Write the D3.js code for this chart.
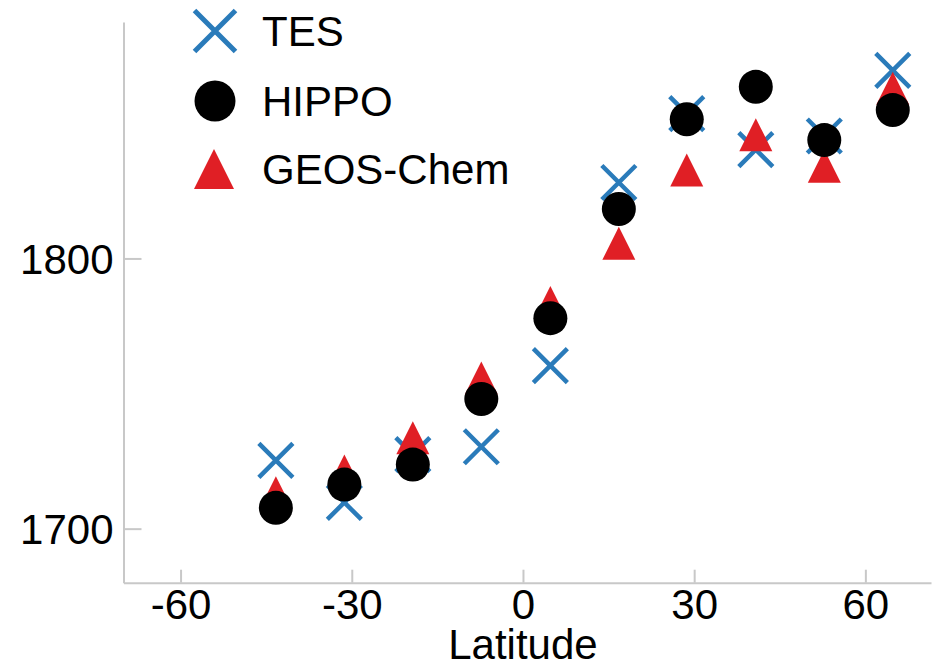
<!DOCTYPE html>
<html>
<head>
<meta charset="utf-8">
<script src="https://cdn.jsdelivr.net/npm/d3@7"></script>
<style>
  html, body { margin: 0; padding: 0; background: #fff; }
  svg { display: block; font-family: "Liberation Sans", Arial, Helvetica, sans-serif; }
</style>
</head>
<body>
<svg id="chart" width="936" height="666"></svg>
<script>
// ---- data ----
const latitudes = [-43.3, -31.3, -19.3, -7.3, 4.8, 16.8, 28.7, 40.8, 52.8, 64.8];
const tesValues   = [1725.3, 1709.7, 1727.4, 1730.3, 1760.3, 1828.1, 1853.6, 1840.3, 1845.3, 1869.6];
const hippoValues = [1707.7, 1716.3, 1723.7, 1748.0, 1777.9, 1818.3, 1851.5, 1863.5, 1843.8, 1854.9];
const geosValues  = [1713.3, 1721.3, 1733.6, 1755.8, 1783.7, 1805.6, 1832.7, 1845.8, 1834.1, 1863.0];
const seriesNames = ["TES", "HIPPO", "GEOS-Chem"];
const xTicks = [-60, -30, 0, 30, 60];
const yTicks = [1700, 1800];
const xLabel = "Latitude";

// ---- layout ----
const svg = d3.select("#chart");
const x = d3.scaleLinear().domain([-70, 71.5]).range([123.5, 931]);
const y = d3.scaleLinear().domain([1680, 1887.5]).range([582.7, 22]);
const axisColor = "#c8c8c8";
const fontSize = 42;
const colors = { TES: "#2a7bba", HIPPO: "#000000", "GEOS-Chem": "#e01f25" };

// axes
const xAxis = svg.append("g")
  .attr("transform", `translate(0,${y.range()[0]})`)
  .call(d3.axisBottom(x).tickValues(xTicks).tickSize(-13).tickSizeOuter(0).tickPadding(6).tickFormat(d => String(d)));
const yAxis = svg.append("g")
  .attr("transform", `translate(${x.range()[0]},0)`)
  .call(d3.axisLeft(y).tickValues(yTicks).tickSize(-18).tickSizeOuter(0).tickPadding(10).tickFormat(d => String(d)));
[xAxis, yAxis].forEach(g => {
  g.select(".domain").attr("stroke", axisColor).attr("stroke-width", 2);
  g.selectAll(".tick line").attr("stroke", axisColor).attr("stroke-width", 2);
  g.selectAll(".tick text").attr("fill", "#000").attr("font-size", fontSize)
    .attr("font-family", '"Liberation Sans", Arial, sans-serif');
});
yAxis.selectAll(".tick text").attr("dy", "0.36em");

svg.append("text")
  .attr("x", x(0)).attr("y", 659)
  .attr("text-anchor", "middle")
  .attr("font-size", fontSize)
  .text(xLabel);

// marker helpers
function crossPath(cx, cy, h) {
  return `M${cx - h},${cy - h}L${cx + h},${cy + h}M${cx - h},${cy + h}L${cx + h},${cy - h}`;
}
function triPath(cx, cy, s) {
  const h = s / 2;
  return `M${cx},${cy - h}L${cx + h},${cy + h}L${cx - h},${cy + h}Z`;
}

const tes = latitudes.map((lat, i) => ({ lat, v: tesValues[i] }));
const hippo = latitudes.map((lat, i) => ({ lat, v: hippoValues[i] }));
const geos = latitudes.map((lat, i) => ({ lat, v: geosValues[i] }));

// TES crosses
svg.append("g").selectAll("path").data(tes).join("path")
  .attr("d", d => crossPath(x(d.lat), y(d.v), 17))
  .attr("stroke", colors.TES).attr("stroke-width", 4.5).attr("fill", "none");

// GEOS-Chem triangles
svg.append("g").selectAll("path").data(geos).join("path")
  .attr("d", d => triPath(x(d.lat), y(d.v), 33))
  .attr("fill", colors["GEOS-Chem"]);

// HIPPO circles
svg.append("g").selectAll("circle").data(hippo).join("circle")
  .attr("cx", d => x(d.lat)).attr("cy", d => y(d.v)).attr("r", 17)
  .attr("fill", colors.HIPPO);

// legend
const legendRows = [31, 101, 169];
const lg = svg.append("g");
seriesNames.forEach((name, i) => {
  const cy = legendRows[i], cx = 215;
  if (name === "TES") {
    lg.append("path").attr("d", crossPath(cx, cy, 20.5))
      .attr("stroke", colors.TES).attr("stroke-width", 5).attr("fill", "none");
  } else if (name === "HIPPO") {
    lg.append("circle").attr("cx", cx).attr("cy", cy).attr("r", 20.5).attr("fill", colors.HIPPO);
  } else {
    lg.append("path").attr("d", triPath(cx - 1, cy, 40)).attr("fill", colors["GEOS-Chem"]);
  }
  lg.append("text").attr("x", 262).attr("y", cy + 15)
    .attr("font-size", fontSize).attr("fill", "#000").text(name);
});
</script>
</body>
</html>
